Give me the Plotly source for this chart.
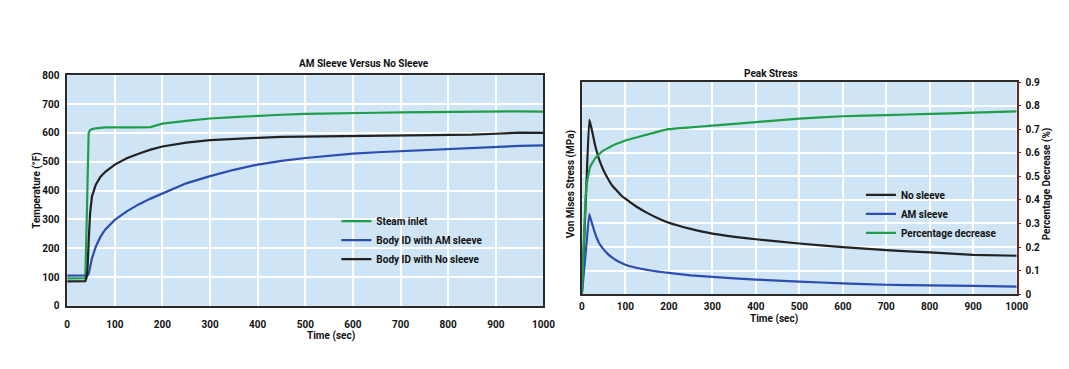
import plotly.graph_objects as go

W, H = 1069, 369

# ---------------- Left chart data: temperature (°F) vs time (sec)
t_temp = [0, 20, 38, 41, 43, 45, 48, 52, 60, 70, 80, 100, 125, 150, 175, 200, 250, 300, 350, 400,
          450, 500, 550, 600, 650, 700, 750, 800, 850, 900, 950, 1000]
steam_inlet = [95, 95, 96, 300, 520, 600, 610, 613, 616, 618, 619, 619, 618, 619, 620, 632, 642, 650, 655, 660,
               663, 666, 668, 669, 670, 671, 672, 673, 673, 674, 675, 674]
am_sleeve = [105, 105, 105, 105, 106, 110, 135, 165, 205, 240, 265, 298, 328, 352, 372, 390, 425, 450, 472, 490,
             503, 513, 521, 528, 533, 537, 541, 545, 549, 552, 555, 557]
no_sleeve = [85, 85, 86, 100, 140, 220, 320, 380, 420, 448, 465, 490, 512, 528, 542, 553, 566, 575, 580, 583,
             586, 587, 589, 590, 590, 591, 591, 592, 594, 597, 601, 600]

# ---------------- Right chart data: peak stress vs time (sec)
t_stress = [0, 5, 10, 17, 20, 25, 30, 35, 40, 50, 60, 70, 80, 90, 100, 125, 150, 175, 200, 250, 300,
            400, 500, 600, 700, 800, 900, 1000]
stress_no_sleeve = [0.0, 0.22, 0.44, 0.74, 0.72, 0.68, 0.635, 0.60, 0.57, 0.525, 0.49, 0.46, 0.44, 0.42, 0.405,
                    0.372, 0.345, 0.322, 0.303, 0.277, 0.257, 0.233, 0.215, 0.200, 0.187, 0.177, 0.167, 0.163]
stress_am_sleeve = [0.0, 0.10, 0.20, 0.34, 0.32, 0.29, 0.26, 0.235, 0.215, 0.19, 0.17, 0.155, 0.143, 0.133,
                    0.125, 0.112, 0.103, 0.096, 0.09, 0.08, 0.073, 0.062, 0.053, 0.046, 0.040, 0.037, 0.035,
                    0.032]
pct_decrease = [0.0, 0.25, 0.45, 0.525, 0.545, 0.56, 0.575, 0.585, 0.595, 0.61, 0.62, 0.63, 0.638, 0.645,
                0.652, 0.665, 0.677, 0.69, 0.70, 0.708, 0.715, 0.73, 0.745, 0.755, 0.76, 0.765, 0.77, 0.776]

x_ticks = list(range(0, 1001, 100))
temp_ticks = list(range(0, 801, 100))
pct_ticks = [round(0.1 * i, 1) for i in range(10)]

GREEN = "#1f9e4a"
BLUE = "#2c4db0"
BLACK = "#222222"
BG = "#cfe4f4"
FONT = "Roboto, Liberation Sans Narrow, sans-serif"
TXT = "#111111"

fig = go.Figure()

fig.add_trace(go.Scatter(x=t_temp, y=steam_inlet, mode="lines", name="Steam inlet",
                         line=dict(color=GREEN, width=2.2), xaxis="x", yaxis="y", legend="legend"))
fig.add_trace(go.Scatter(x=t_temp, y=am_sleeve, mode="lines", name="Body ID with AM sleeve",
                         line=dict(color=BLUE, width=2.2), xaxis="x", yaxis="y", legend="legend"))
fig.add_trace(go.Scatter(x=t_temp, y=no_sleeve, mode="lines", name="Body ID with No sleeve",
                         line=dict(color=BLACK, width=2.2), xaxis="x", yaxis="y", legend="legend"))

fig.add_trace(go.Scatter(x=t_stress, y=stress_no_sleeve, mode="lines", name="No sleeve",
                         line=dict(color=BLACK, width=2.2, shape="spline", smoothing=0.4),
                         xaxis="x2", yaxis="y2", legend="legend2"))
fig.add_trace(go.Scatter(x=t_stress, y=stress_am_sleeve, mode="lines", name="AM sleeve",
                         line=dict(color=BLUE, width=2.2, shape="spline", smoothing=0.4),
                         xaxis="x2", yaxis="y2", legend="legend2"))
fig.add_trace(go.Scatter(x=t_stress, y=pct_decrease, mode="lines", name="Percentage decrease",
                         line=dict(color=GREEN, width=2.2, shape="spline", smoothing=0.4),
                         xaxis="x2", yaxis="y3", legend="legend2"))

# pixel-based domains
L1, R1, T1, B1 = 57, 540, 64, 301
L2, R2, T2, B2 = 579, 1020, 71, 289

tickfont = dict(family=FONT, size=10, color=TXT, weight="bold")
lab = dict(family=FONT, size=10, color=TXT, weight="bold")
common_x = dict(range=[0, 1000], tickvals=x_ticks, showgrid=True, gridcolor="white", gridwidth=2,
                showline=True, linecolor="#2a2a2a", linewidth=1.5, mirror=True, zeroline=False,
                ticks="", tickfont=tickfont, fixedrange=True)

fig.update_layout(
    width=W, height=H, margin=dict(l=0, r=0, t=0, b=0),
    paper_bgcolor="white", plot_bgcolor=BG,
    font=dict(family=FONT, color=TXT),
    xaxis=dict(domain=[L1 / W, R1 / W], anchor="y", ticklabelstandoff=8, **common_x),
    yaxis=dict(domain=[1 - B1 / H, 1 - T1 / H], anchor="x", range=[0, 800], tickvals=temp_ticks,
               showgrid=True, gridcolor="white", gridwidth=2, showline=True, linecolor="#2a2a2a",
               linewidth=1.5, mirror=True, zeroline=False, ticks="", tickfont=tickfont,
               ticklabelstandoff=4, fixedrange=True),
    xaxis2=dict(domain=[L2 / W, R2 / W], anchor="y2", ticklabelstandoff=2, **common_x),
    yaxis2=dict(domain=[1 - B2 / H, 1 - T2 / H], anchor="x2", range=[0, 0.9], tickvals=pct_ticks,
                showticklabels=False, showgrid=True, gridcolor="white", gridwidth=2, showline=True,
                linecolor="#2a2a2a", linewidth=1.5, mirror=True, zeroline=False, ticks="", fixedrange=True),
    yaxis3=dict(overlaying="y2", side="right", anchor="x2", range=[0, 0.9], tickvals=pct_ticks,
                ticktext=["0" if v == 0 else f"{v:g}" for v in pct_ticks],
                showgrid=False, showline=True, linecolor="#6b2a22", linewidth=1.5, zeroline=False,
                ticks="outside", ticklen=3, tickcolor="#6b2a22", tickfont=tickfont,
                ticklabelstandoff=2, fixedrange=True),
    legend=dict(x=330 / W, y=1 - 199 / H, xanchor="left", yanchor="top", bgcolor="rgba(0,0,0,0)",
                font=lab, tracegroupgap=0, itemwidth=30),
    legend2=dict(x=862 / W, y=1 - 172 / H, xanchor="left", yanchor="top", bgcolor="rgba(0,0,0,0)",
                 font=lab, tracegroupgap=0, itemwidth=30),
    annotations=[
        dict(text="AM Sleeve Versus No Sleeve", x=290 / W, y=1 - 44 / H, xref="paper", yref="paper",
             showarrow=False, font=lab),
        dict(text="Time (sec)", x=298 / W, y=1 - 340 / H, xref="paper", yref="paper",
             showarrow=False, font=lab),
        dict(text="Temperature (°F)", x=18 / W, y=1 - 182 / H, xref="paper", yref="paper", textangle=-90,
             showarrow=False, font=lab),
        dict(text="Peak Stress", x=800 / W, y=1 - 54 / H, xref="paper", yref="paper",
             showarrow=False, font=lab),
        dict(text="Time (sec)", x=800 / W, y=1 - 323 / H, xref="paper", yref="paper",
             showarrow=False, font=lab),
        dict(text="Von Mises Stress (MPa)", x=568 / W, y=1 - 176 / H, xref="paper", yref="paper",
             textangle=-90, showarrow=False, font=lab),
        dict(text="Percentage Decrease (%)", x=1059 / W, y=1 - 176 / H, xref="paper", yref="paper",
             textangle=-90, showarrow=False, font=lab),
    ],
)

fig.write_html("out.html")
